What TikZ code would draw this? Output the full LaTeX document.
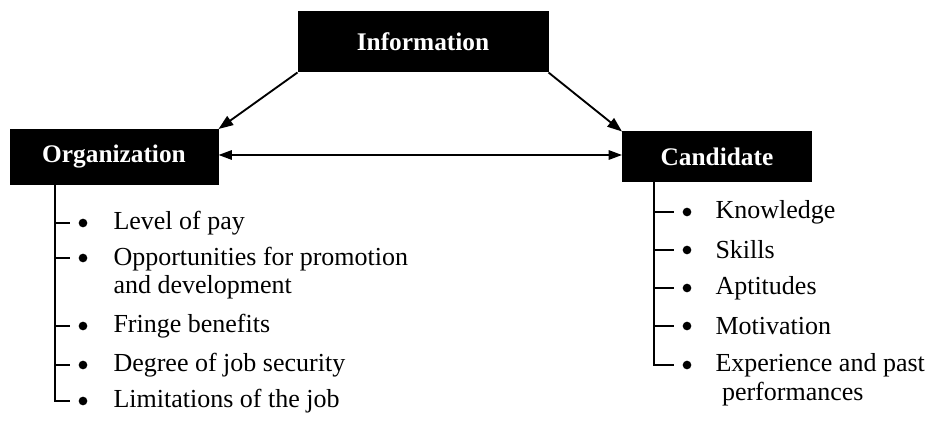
\documentclass[tikz,border=0pt]{standalone}
\usepackage{fontspec}
\setmainfont{Liberation Serif}
\usetikzlibrary{arrows.meta}

\tikzset{every picture/.style={line width=0.75pt}}
\tikzset{
  darkbox/.style={draw=black, fill=black, text=white, inner sep=0pt,
    font=\fontsize{19}{21}\selectfont\bfseries},
  itemtext/.style={inner sep=0pt, align=left,
    font=\fontsize{19.5}{21.5}\selectfont},
  dot/.style={circle, fill=black, inner sep=0pt, minimum size=6.5pt},
  tick/.style={line width=1.5pt, shorten >=6pt},
  link/.style={line width=1.4pt, -{Triangle[length=11pt,width=8pt]}}
}

\begin{document}
\begin{tikzpicture}[x=0.75pt,y=0.75pt,yscale=-1,xscale=1]
\useasboundingbox (0,0) rectangle (930,427);

% Heads
\node (info) [darkbox, minimum width=187.5pt, minimum height=45pt] at (423,42) {Information};
\node (org) [darkbox, minimum width=156pt, minimum height=41.25pt] at (114,157) {Organization};
\node (cand) [darkbox, minimum width=141.75pt, minimum height=37.5pt] at (717,157) {Candidate};

% Arrows
\draw [link] (info.south west) -- (org.north east);
\draw [link] (info.south east) -- (cand.north west);
\draw [link, {Triangle[length=10pt,width=7pt]}-{Triangle[length=10pt,width=7pt]}] ([yshift=-1.5pt]org.east) -- ([yshift=-1.5pt]cand.west);

% Organization list
\coordinate (ltop) at (55,185);
\node (lb1) [dot] at (83,223) {};
\node (lb2) [dot] at (83,258) {};
\node (lb3) [dot] at (83,326) {};
\node (lb4) [dot] at (83,365) {};
\node (lb5) [dot] at (83,401) {};
\node (l1) [itemtext, anchor=west] at (113,223) {Level of pay};
\node (l2) [itemtext, anchor=north west] at (113,246.3) {Opportunities for promotion\\and development};
\node (l3) [itemtext, anchor=west] at (113,326) {Fringe benefits};
\node (l4) [itemtext, anchor=west] at (113,365) {Degree of job security};
\node (l5) [itemtext, anchor=west] at (113,401) {Limitations of the job};
\foreach \i in {1,...,5}
  \draw [tick] (ltop) |- (lb\i.west);

% Candidate list
\coordinate (rtop) at (654,182);
\node (rb1) [dot] at (687,212) {};
\node (rb2) [dot] at (687,250) {};
\node (rb3) [dot] at (687,288) {};
\node (rb4) [dot] at (687,326) {};
\node (rb5) [dot] at (687,365) {};
\node (r1) [itemtext, anchor=west] at (715,212) {Knowledge};
\node (r2) [itemtext, anchor=west] at (715,250) {Skills};
\node (r3) [itemtext, anchor=west] at (715,288) {Aptitudes};
\node (r4) [itemtext, anchor=west] at (715,326) {Motivation};
\node (r5) [itemtext, anchor=north west] at (715,353.3) {Experience and past\\\ performances};
\foreach \i in {1,...,5}
  \draw [tick] (rtop) |- (rb\i.west);
\end{tikzpicture}
\end{document}
